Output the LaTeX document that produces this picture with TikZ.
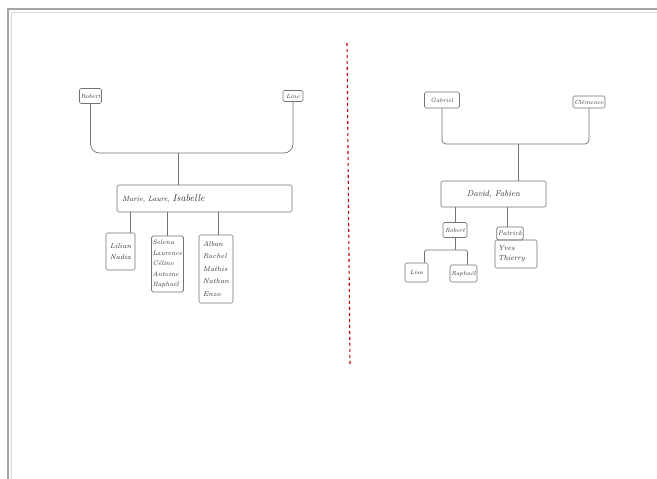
\documentclass[tikz,border=0pt]{standalone}
\begin{document}
\begin{tikzpicture}[x=1pt,y=-1pt,
  pen/.style={draw=black!55, line width=0.7pt},
  namebox/.style={pen, rounded corners=1.5pt, inner sep=1pt, align=center,
    font=\itshape\fontsize{6}{7}\selectfont, text=black!80},
  kids/.style={namebox, align=left, font=\itshape\fontsize{7}{10.5}\selectfont},
  link/.style={pen}]
\useasboundingbox (0,0) rectangle (657,479);
% page frame
\fill[white] (0,0) rectangle (657,479);
\draw[black!35, line width=2.2pt] (8,479) -- (8,9) -- (657,9);
\draw[black!15, line width=1pt] (11,479) -- (11,12) -- (657,12);
% divider
\draw[red!75!black, line width=1.1pt, dash pattern=on 3pt off 3pt] (347,43) -- (350,365);

% ---------- left tree ----------
\node[namebox, minimum width=22pt, minimum height=15pt] (robL) at (90.5,96) {Robert};
\node[namebox, minimum width=20pt, minimum height=11pt] (lineL) at (293,96) {Line};
\node[namebox, minimum width=175pt, minimum height=27pt, anchor=center,
  font=\itshape\fontsize{7.5}{9}\selectfont, text width=165pt, align=left] (midL) at (204.5,198.5)
  {Marie, Laure, \fontsize{10}{10}\selectfont Isabelle};
\node[kids, minimum width=29pt, minimum height=37pt] (c1) at (120.5,251.5) {Lilian\\Nadia};
\node[kids, minimum width=31pt, minimum height=56pt, font=\itshape\fontsize{6.5}{10.5}\selectfont] (c2) at (167.5,264) {Selena\\Laurence\\Céline\\Antoine\\Raphaël};
\node[kids, minimum width=34pt, minimum height=68pt, font=\itshape\fontsize{7}{12.5}\selectfont] (c3) at (216,269) {Alban\\Rachel\\Mathis\\Nathan\\Enzo};
\coordinate (jL) at (178,153);
\draw[link, rounded corners=9pt] (robL.south) |- (jL) -| (lineL.south);
\draw[link] (jL) -- (jL |- midL.north);
\draw[link] ([xshift=10pt]c1.north) -- ([xshift=10pt]c1.north |- midL.south);
\draw[link] (c2.north) -- (c2.north |- midL.south);
\draw[link] ([xshift=2pt]c3.north) -- ([xshift=2pt]c3.north |- midL.south);

% ---------- right tree ----------
\node[namebox, minimum width=35pt, minimum height=16pt] (gabR) at (442,100) {Gabriel};
\node[namebox, minimum width=32pt, minimum height=12pt] (cleR) at (589,102) {Clémence};
\node[namebox, minimum width=105pt, minimum height=26pt,
  font=\itshape\fontsize{8.5}{9}\selectfont] (midR) at (493.5,194) {David, Fabien};
\node[namebox, minimum width=24pt, minimum height=15pt] (robR) at (455,230) {Robert};
\node[namebox, minimum width=26pt, minimum height=13pt, font=\itshape\fontsize{6.5}{7}\selectfont] (patR) at (510,233.5) {Patrick};
\node[kids, minimum width=42pt, minimum height=28pt, text width=36pt, font=\itshape\fontsize{7.5}{10}\selectfont] (yvesR) at (516,254) {Yves\\Thierry};
\node[namebox, minimum width=23pt, minimum height=19pt] (lisaR) at (416.5,272.5) {Lisa};
\node[namebox, minimum width=27pt, minimum height=17pt] (rapR) at (463.5,273.5) {Raphaël};
\coordinate (jR) at (518,144);
\draw[link, rounded corners=4pt] (gabR.south) |- (jR) -| (cleR.south);
\draw[link] (jR) -- (jR |- midR.north);
\draw[link] (robR.north) -- (robR.north |- midR.south);
\draw[link] ([xshift=-3pt]patR.north) -- ([xshift=-3pt]patR.north |- midR.south);
\coordinate (jR2) at (455,250);
\draw[link] (robR.south) -- (jR2);
\draw[link, rounded corners=2pt] ([xshift=8pt]lisaR.north) |- (jR2) -| ([xshift=4pt]rapR.north);
\end{tikzpicture}
\end{document}
